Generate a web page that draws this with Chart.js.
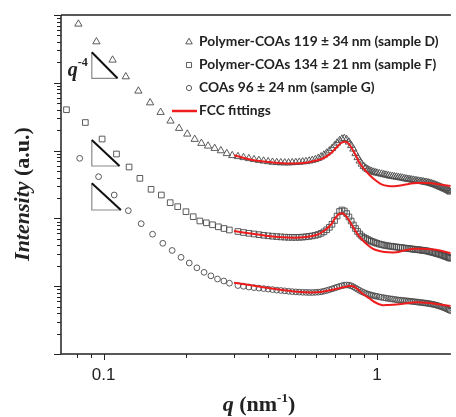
<!DOCTYPE html>
<html>
<head>
<meta charset="utf-8">
<script src="https://cdn.jsdelivr.net/npm/chart.js@4"></script>
<style>
  html, body { margin: 0; padding: 0; background: #fff; }
  #wrap { width: 456px; height: 417px; }
</style>
</head>
<body>
<div id="wrap"><canvas id="saxs" width="456" height="417"></canvas></div>
<script>
// ------------------------------------------------------------
// SAXS data (q in nm^-1, intensity as log10 a.u.)
// ------------------------------------------------------------
const seriesLabels = [
    'Polymer-COAs 119 \u00b1 34 nm (sample D)',
    'Polymer-COAs 134 \u00b1 21 nm (sample F)',
    'COAs 96 \u00b1 24 nm (sample G)',
    'FCC fittings'
];

// sparse low-q points, one list per sample
const qHeadD = [0.0808, 0.0941, 0.1078, 0.1205, 0.1340, 0.1479, 0.1616, 0.1757, 0.1888, 0.2023, 0.2154, 0.2279, 0.2410, 0.2548, 0.2685, 0.2823, 0.2955];
const logHeadD = [4.867, 4.606, 4.336, 4.090, 3.879, 3.706, 3.565, 3.437, 3.329, 3.245, 3.167, 3.108, 3.068, 3.034, 2.999, 2.957, 2.928];

const qHeadF = [0.0731, 0.0857, 0.0987, 0.1114, 0.1239, 0.1357, 0.1491, 0.1626, 0.1752, 0.1866, 0.2001, 0.2127, 0.2249, 0.2376, 0.2503, 0.2630, 0.2757, 0.2884];
const logHeadF = [3.603, 3.414, 3.171, 2.950, 2.758, 2.591, 2.429, 2.345, 2.232, 2.173, 2.099, 2.025, 1.962, 1.935, 1.906, 1.876, 1.851, 1.829];

const qHeadG = [0.0817, 0.0958, 0.1093, 0.1231, 0.1372, 0.1510, 0.1646, 0.1781, 0.1920, 0.2057, 0.2194, 0.2331, 0.2469, 0.2610, 0.2753, 0.2887];
const logHeadG = [2.886, 2.615, 2.345, 2.114, 1.922, 1.767, 1.633, 1.527, 1.426, 1.342, 1.271, 1.205, 1.153, 1.106, 1.077, 1.044];

// dense part, shared q values
const qFine = [
    0.31, 0.325, 0.34, 0.355, 0.37, 0.385, 0.40, 0.415, 0.43, 0.445,
    0.46, 0.475, 0.49, 0.505, 0.52, 0.535, 0.55, 0.565, 0.58, 0.595,
    0.61, 0.625, 0.64, 0.655, 0.67, 0.685, 0.70, 0.715, 0.73, 0.745,
    0.76, 0.775, 0.79, 0.805, 0.82, 0.835, 0.85, 0.865, 0.88, 0.895,
    0.91, 0.925, 0.94, 0.955, 0.97, 0.985, 1.00,
    1.02, 1.04, 1.06, 1.08, 1.10, 1.12, 1.14, 1.16, 1.18, 1.20,
    1.22, 1.24, 1.26, 1.28, 1.30, 1.32, 1.34, 1.36, 1.38, 1.40,
    1.42, 1.44, 1.46, 1.48, 1.50, 1.52, 1.54, 1.56, 1.58, 1.60,
    1.62, 1.64, 1.66, 1.68, 1.70, 1.72, 1.74, 1.76, 1.78, 1.80,
    1.82, 1.84, 1.86
];
const logD = [
    2.913, 2.898, 2.883, 2.869, 2.857, 2.847, 2.838, 2.830, 2.825, 2.822,
    2.820, 2.820, 2.823, 2.826, 2.830, 2.835, 2.839, 2.847, 2.857, 2.869,
    2.886, 2.909, 2.935, 2.965, 2.997, 3.031, 3.075, 3.112, 3.149, 3.171,
    3.181, 3.164, 3.127, 3.075, 3.024, 2.957, 2.898, 2.847, 2.802, 2.768,
    2.743, 2.724, 2.709, 2.696, 2.684, 2.677, 2.670,
    2.662, 2.655, 2.647, 2.640, 2.633, 2.625, 2.621, 2.615, 2.611, 2.606,
    2.600, 2.596, 2.588, 2.584, 2.578, 2.574, 2.569, 2.565, 2.560, 2.556,
    2.552, 2.547, 2.544, 2.540, 2.535, 2.531, 2.527, 2.521, 2.515, 2.507,
    2.500, 2.493, 2.484, 2.475, 2.466, 2.457, 2.448, 2.440, 2.431, 2.422,
    2.412, 2.401, 2.389
];
const logF = [
    1.807, 1.792, 1.780, 1.770, 1.760, 1.751, 1.743, 1.737, 1.732, 1.727,
    1.724, 1.721, 1.720, 1.720, 1.721, 1.724, 1.729, 1.735, 1.742, 1.751,
    1.763, 1.780, 1.802, 1.832, 1.869, 1.913, 1.969, 2.035, 2.102, 2.124,
    2.109, 2.072, 2.021, 1.962, 1.903, 1.851, 1.807, 1.770, 1.740, 1.718,
    1.704, 1.689, 1.674, 1.662, 1.652, 1.642, 1.633,
    1.622, 1.614, 1.606, 1.600, 1.594, 1.590, 1.586, 1.581, 1.578, 1.574,
    1.571, 1.566, 1.563, 1.559, 1.556, 1.553, 1.549, 1.546, 1.543, 1.540,
    1.537, 1.534, 1.531, 1.528, 1.525, 1.521, 1.516, 1.510, 1.504, 1.499,
    1.493, 1.487, 1.481, 1.475, 1.469, 1.463, 1.456, 1.448, 1.441, 1.434,
    1.426, 1.419, 1.412
];
const logG = [
    1.010, 0.999, 0.988, 0.979, 0.972, 0.965, 0.957, 0.950, 0.942, 0.937,
    0.931, 0.925, 0.920, 0.916, 0.913, 0.910, 0.909, 0.907, 0.907, 0.909,
    0.912, 0.917, 0.926, 0.937, 0.948, 0.960, 0.973, 0.985, 0.997, 1.007,
    1.015, 1.018, 1.015, 1.006, 0.991, 0.973, 0.954, 0.937, 0.920, 0.907,
    0.895, 0.885, 0.876, 0.869, 0.861, 0.855, 0.850,
    0.842, 0.836, 0.830, 0.824, 0.819, 0.814, 0.810, 0.805, 0.801, 0.796,
    0.794, 0.791, 0.788, 0.785, 0.782, 0.779, 0.776, 0.773, 0.770, 0.767,
    0.764, 0.761, 0.758, 0.755, 0.752, 0.749, 0.746, 0.742, 0.737, 0.733,
    0.729, 0.723, 0.717, 0.711, 0.705, 0.698, 0.690, 0.683, 0.674, 0.665,
    0.656, 0.647, 0.639
];

// FCC fitting curves
const qFit = [0.30, 0.35, 0.40, 0.45, 0.50, 0.55, 0.60, 0.64, 0.68, 0.70, 0.72, 0.74, 0.76, 0.78, 0.80, 0.82, 0.84, 0.86, 0.88, 0.90, 0.94, 0.98, 1.04, 1.10, 1.18, 1.26, 1.36, 1.46, 1.58, 1.70, 1.86];
const fitD = [2.931, 2.861, 2.832, 2.813, 2.810, 2.820, 2.854, 2.891, 2.965, 3.016, 3.068, 3.112, 3.131, 3.119, 3.068, 2.994, 2.920, 2.832, 2.773, 2.724, 2.640, 2.574, 2.503, 2.478, 2.478, 2.496, 2.518, 2.527, 2.518, 2.500, 2.478];
const fitF = [1.814, 1.773, 1.740, 1.721, 1.715, 1.726, 1.755, 1.814, 1.910, 1.991, 2.050, 2.075, 2.058, 2.006, 1.940, 1.866, 1.799, 1.740, 1.696, 1.652, 1.586, 1.541, 1.512, 1.500, 1.500, 1.527, 1.552, 1.552, 1.544, 1.527, 1.485];
const fitG = [1.052, 1.010, 0.973, 0.944, 0.922, 0.910, 0.910, 0.922, 0.944, 0.954, 0.966, 0.978, 0.988, 0.999, 1.003, 1.000, 0.973, 0.937, 0.900, 0.870, 0.819, 0.767, 0.723, 0.723, 0.730, 0.745, 0.760, 0.760, 0.748, 0.730, 0.708];

// q^-4 slope guides (start q, end q, log10 I at top and bottom)
const guideQ0 = [0.0905, 0.0905, 0.0905];
const guideQ1 = [0.1124, 0.1143, 0.1156];
const guideTop = [4.450, 3.156, 2.518];
const guideBottom = [4.066, 2.773, 2.124];

// axis ticks
const xMajorTicks = [0.1, 1];
const xMinorTicks = [0.08, 0.09, 0.2, 0.3, 0.4, 0.5, 0.6, 0.7, 0.8, 0.9];
const yDecades = [0, 1, 2, 3, 4, 5];

// ------------------------------------------------------------
const toPoints = (qs, logs) => qs.map((q, i) => ({ x: q, y: Math.pow(10, logs[i]) }));

const markerColor = '#4a4a4a';
const fitColor = '#ee1c1c';

const markerSet = (label, pts, style, radius) => ({
    label: label,
    data: pts,
    showLine: false,
    pointStyle: style,
    pointRadius: radius,
    pointBorderColor: markerColor,
    pointBackgroundColor: 'rgba(255,255,255,0)',
    pointBorderWidth: 0.9,
    order: 2
});

const fitSet = (logs) => ({
    label: seriesLabels[3],
    data: toPoints(qFit, logs),
    showLine: true,
    borderColor: fitColor,
    borderWidth: 2,
    pointRadius: 0,
    tension: 0.35,
    order: 1
});

const frame = {
    id: 'frame',
    afterDraw(chart) {
        const ctx = chart.ctx;
        const xs = chart.scales.x;
        const ys = chart.scales.y;
        const a = chart.chartArea;
        const ink = '#222';

        ctx.save();

        // slope guides
        guideQ0.forEach((q0, i) => {
            const x0 = xs.getPixelForValue(q0);
            const x1 = xs.getPixelForValue(guideQ1[i]);
            const yt = ys.getPixelForValue(Math.pow(10, guideTop[i]));
            const yb = ys.getPixelForValue(Math.pow(10, guideBottom[i]));
            ctx.strokeStyle = '#8a8a8a';
            ctx.lineWidth = 1.2;
            ctx.beginPath();
            ctx.moveTo(x0, yt);
            ctx.lineTo(x0, yb);
            ctx.lineTo(x1, yb);
            ctx.stroke();
            ctx.strokeStyle = '#111';
            ctx.lineWidth = 2;
            ctx.beginPath();
            ctx.moveTo(x0, yt);
            ctx.lineTo(x1, yb);
            ctx.stroke();
        });
        // q^-4 label next to the first guide
        {
            const gx = xs.getPixelForValue(guideQ0[0]);
            const gy = ys.getPixelForValue(Math.pow(10, guideBottom[0]));
            ctx.fillStyle = ink;
            ctx.textBaseline = 'alphabetic';
            ctx.textAlign = 'left';
            ctx.font = 'italic bold 20px "Liberation Serif"';
            ctx.fillText('q', gx - 24, gy - 2);
            ctx.font = 'bold 12px "Liberation Serif"';
            ctx.fillText('-4', gx - 14, gy - 12);
        }

        // axis lines
        ctx.strokeStyle = ink;
        ctx.lineWidth = 1.5;
        ctx.beginPath();
        ctx.moveTo(a.left, a.top);
        ctx.lineTo(a.right, a.top);
        ctx.moveTo(a.left, a.top);
        ctx.lineTo(a.left, a.bottom);
        ctx.lineTo(a.right, a.bottom);
        ctx.stroke();

        // ticks
        ctx.lineWidth = 1;
        ctx.beginPath();
        xMajorTicks.forEach(v => {
            const x = Math.round(xs.getPixelForValue(v)) + 0.5;
            ctx.moveTo(x, a.bottom);
            ctx.lineTo(x, a.bottom + 6);
        });
        xMinorTicks.forEach(v => {
            const x = Math.round(xs.getPixelForValue(v)) + 0.5;
            ctx.moveTo(x, a.bottom);
            ctx.lineTo(x, a.bottom + 4);
        });
        yDecades.forEach(d => {
            const y = Math.round(ys.getPixelForValue(Math.pow(10, d))) + 0.5;
            ctx.moveTo(a.left - 7, y);
            ctx.lineTo(a.left, y);
            if (d < yDecades[yDecades.length - 1]) {
                for (let m = 2; m <= 9; m++) {
                    const ym = Math.round(ys.getPixelForValue(m * Math.pow(10, d))) + 0.5;
                    ctx.moveTo(a.left - 4, ym);
                    ctx.lineTo(a.left, ym);
                }
            }
        });
        ctx.stroke();

        // tick labels
        ctx.fillStyle = ink;
        ctx.font = '17px "Liberation Sans"';
        ctx.textAlign = 'center';
        ctx.textBaseline = 'middle';
        xMajorTicks.forEach(v => {
            ctx.fillText(String(v), xs.getPixelForValue(v), a.bottom + 21);
        });

        // x title: q (nm^-1)
        ctx.textAlign = 'left';
        ctx.textBaseline = 'alphabetic';
        const fq = 'italic bold 22px "Liberation Serif"';
        const fb = 'bold 22px "Liberation Serif"';
        const fs = 'bold 13px "Liberation Serif"';
        ctx.font = fq; const w1 = ctx.measureText('q').width;
        ctx.font = fb; const w2 = ctx.measureText(' (nm').width;
        ctx.font = fs; const w3 = ctx.measureText('-1').width;
        ctx.font = fb; const w4 = ctx.measureText(')').width;
        let tx = 259 - (w1 + w2 + w3 + w4) / 2;
        const tb = 411;
        ctx.font = fq; ctx.fillText('q', tx, tb); tx += w1;
        ctx.font = fb; ctx.fillText(' (nm', tx, tb); tx += w2;
        ctx.font = fs; ctx.fillText('-1', tx, tb - 9); tx += w3;
        ctx.font = fb; ctx.fillText(')', tx, tb);

        // y title: Intensity (a.u.)
        ctx.save();
        ctx.translate(29, 194);
        ctx.rotate(-Math.PI / 2);
        const yi = 'italic bold 22px "Liberation Serif"';
        ctx.font = yi; const v1 = ctx.measureText('Intensity').width;
        ctx.font = fb; const v2 = ctx.measureText(' (a.u.)').width;
        let ty = -(v1 + v2) / 2;
        ctx.font = yi; ctx.fillText('Intensity', ty, 0); ty += v1;
        ctx.font = fb; ctx.fillText(' (a.u.)', ty, 0);
        ctx.restore();

        // legend: size the font so the first row spans about 240 px
        const rows = [42, 65, 88, 111];
        let fsz = 15;
        ctx.font = 'bold ' + fsz + 'px Lato';
        const wRow = ctx.measureText(seriesLabels[0]).width;
        fsz = Math.min(16, fsz * 240 / wRow);
        ctx.font = 'bold ' + fsz.toFixed(1) + 'px Lato';
        ctx.textBaseline = 'middle';
        ctx.textAlign = 'left';
        for (let i = 0; i < 3; i++) {
            const ds = chart.data.datasets[i];
            ctx.fillStyle = '#fff';
            ctx.strokeStyle = markerColor;
            ctx.lineWidth = 0.9;
            Chart.helpers.drawPoint(ctx, {
                pointStyle: ds.pointStyle,
                radius: ds.pointRadius * 0.9,
                borderWidth: 0.9,
                rotation: 0
            }, 189, rows[i]);
            ctx.fillStyle = ink;
            ctx.fillText(seriesLabels[i], 199, rows[i]);
        }
        ctx.strokeStyle = fitColor;
        ctx.lineWidth = 2.5;
        ctx.beginPath();
        ctx.moveTo(172, rows[3]);
        ctx.lineTo(197, rows[3]);
        ctx.stroke();
        ctx.fillStyle = ink;
        ctx.fillText(seriesLabels[3], 199, rows[3]);

        ctx.restore();
    }
};

new Chart(document.getElementById('saxs'), {
    type: 'scatter',
    data: {
        datasets: [
            markerSet(seriesLabels[0], toPoints(qHeadD, logHeadD).concat(toPoints(qFine, logD)), 'triangle', 4.2),
            markerSet(seriesLabels[1], toPoints(qHeadF, logHeadF).concat(toPoints(qFine, logF)), 'rect', 4.0),
            markerSet(seriesLabels[2], toPoints(qHeadG, logHeadG).concat(toPoints(qFine, logG)), 'circle', 2.9),
            fitSet(fitD),
            fitSet(fitF),
            fitSet(fitG)
        ]
    },
    options: {
        responsive: false,
        animation: false,
        layout: { padding: { left: 61, top: 15, right: 0, bottom: 63 } },
        plugins: { legend: { display: false }, tooltip: { enabled: false } },
        scales: {
            x: { type: 'logarithmic', min: 0.0698, max: 1.866, display: false },
            y: { type: 'logarithmic', min: 1, max: 100000, display: false }
        }
    },
    plugins: [frame]
});
</script>
</body>
</html>
